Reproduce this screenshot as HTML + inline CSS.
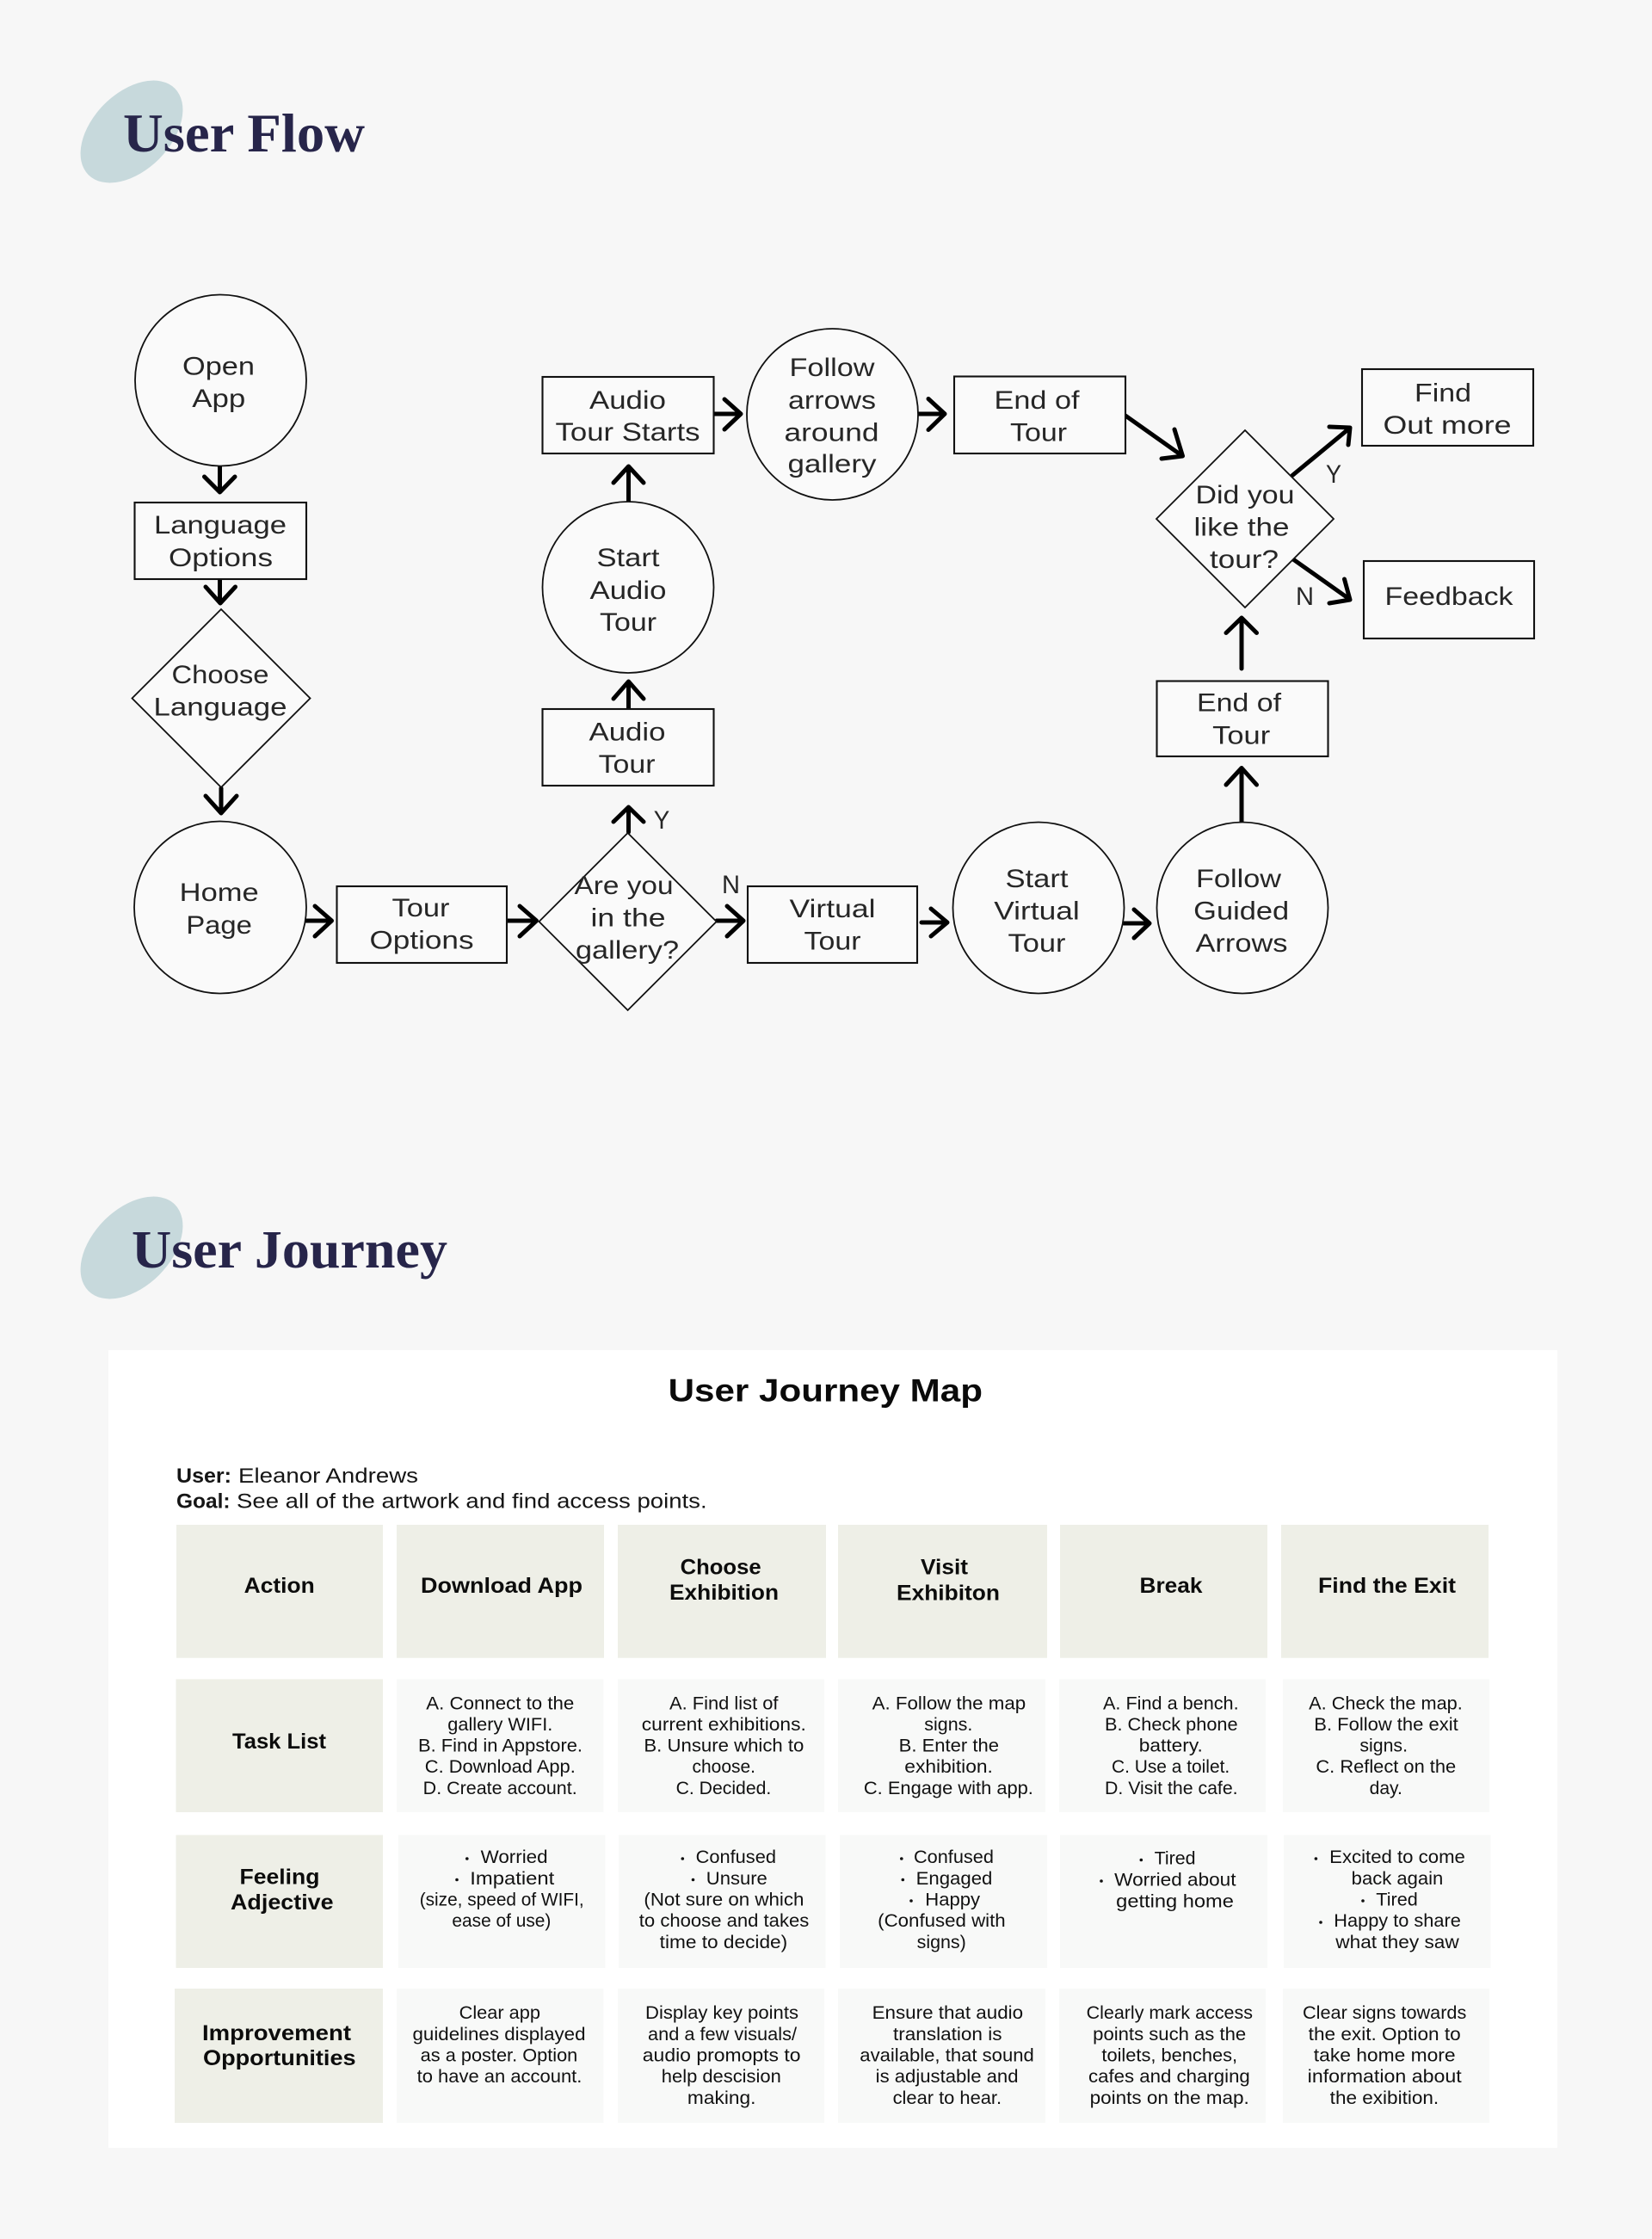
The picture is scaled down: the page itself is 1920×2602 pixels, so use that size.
<!DOCTYPE html>
<html lang="en"><head><meta charset="utf-8"><title>User Flow and User Journey</title>
<style>
html,body{margin:0;padding:0;background:#f7f7f7}
svg{display:block}
text{font-family:"Liberation Sans",sans-serif;fill:#151515}
.t{font-size:30px;text-anchor:middle;fill:#262626}
.s{fill:#fafafa;stroke:#111;stroke-width:1.8}
.b{fill:#fafafa;stroke:#111;stroke-width:2.1}
.a{fill:none;stroke:#000;stroke-width:5;stroke-linecap:round;stroke-linejoin:round}
.h{font-family:"Liberation Serif",serif;font-weight:700;fill:#27254a}
.c{font-size:20.8px;fill:#111}
.m{font-size:25px;font-weight:700;fill:#0c0c0c}
.d{fill:#111}
.hc{fill:#eeefe7}.lc{fill:#eeefe7}.pc{fill:#f8f9f8}
</style></head>
<body>
<svg width="1920" height="2602" viewBox="0 0 1920 2602" xmlns="http://www.w3.org/2000/svg">
<rect width="1920" height="2602" fill="#f7f7f7"/>

<ellipse cx="153" cy="153" rx="71" ry="45" transform="rotate(-45 153 153)" fill="#c7d9dc"/>
<text class="h" x="143" y="176" font-size="64" textLength="281" lengthAdjust="spacingAndGlyphs">User Flow</text>
<ellipse cx="153" cy="1450" rx="71" ry="45" transform="rotate(-45 153 1450)" fill="#c7d9dc"/>
<text class="h" x="153" y="1473" font-size="62" textLength="367" lengthAdjust="spacingAndGlyphs">User Journey</text>

<!-- connectors -->
<g class="a">
<path d="M255.500 542V571M237.500 554L255.500 572L273 554"/>
<path d="M255.500 674V700M239 682L256 701L273.500 682"/>
<path d="M257 916V944M239 925L257 945L275 925"/>
<path d="M355 1070H384M366 1053L385.500 1070L366 1088"/>
<path d="M589 1070H622M604 1053L623.500 1070L604 1088"/>
<path d="M833 1070H863M845 1053L864 1070L845 1088"/>
<path d="M730.500 967V939M713 955L730.500 938L748 955"/>
<path d="M730.500 824V793M713 812L730.500 792L748 812"/>
<path d="M730.500 582V543M713 561L730.500 542L748 561"/>
<path d="M830 481H860M842 464L861 481L842 499"/>
<path d="M1066 481H1097M1079 463.500L1098 481L1079 499.500"/>
<path d="M1308 483L1373 529M1365 499L1374.500 530L1350 533"/>
<path d="M1502 552.500L1568 498M1545 496L1569 497L1567 517"/>
<path d="M1503 650L1568 696M1562.500 673L1569 697L1545 701"/>
<path d="M1443 777V719M1425 735.500L1443 718L1460.500 735.500"/>
<path d="M1443 955V893M1425 912L1443 892.500L1460.500 912"/>
<path d="M1071 1072H1100M1082 1056L1101 1072L1082 1088"/>
<path d="M1306 1073H1335M1318 1057L1336 1073L1318 1090"/>
</g>

<!-- nodes -->
<circle class="s" cx="256.500" cy="442" r="99.500"/>
<rect class="b" x="156.500" y="584" width="199.500" height="89"/>
<polygon class="s" points="257,708 360.500,811.500 257,915 153.500,811.500"/>
<circle class="s" cx="256" cy="1054.500" r="100"/>
<rect class="b" x="391.500" y="1030" width="197.500" height="89"/>
<polygon class="s" points="729.600,968 832.700,1071 729.600,1174 626.500,1071"/>
<rect class="b" x="869" y="1030" width="197" height="89"/>
<circle class="s" cx="1207" cy="1055" r="99.500"/>
<circle class="s" cx="1444" cy="1055" r="99.500"/>
<rect class="b" x="1344.500" y="791.500" width="199" height="87.500"/>
<polygon class="s" points="1447,500 1550,603 1447,706 1344,603"/>
<rect class="b" x="1583" y="429" width="199" height="89"/>
<rect class="b" x="1585" y="652" width="198" height="90"/>
<rect class="b" x="1109" y="437.500" width="199" height="89.500"/>
<circle class="s" cx="967.500" cy="481.500" r="99.500"/>
<rect class="b" x="630.500" y="438" width="199" height="89"/>
<circle class="s" cx="730" cy="682.500" r="99.500"/>
<rect class="b" x="630.500" y="824" width="199" height="89"/>

<!-- flow text -->
<g>
<text class="t" x="254" y="435.500" textLength="84" lengthAdjust="spacingAndGlyphs">Open</text>
<text class="t" x="254.300" y="473" textLength="62" lengthAdjust="spacingAndGlyphs">App</text>
<text class="t" x="256" y="620" textLength="154" lengthAdjust="spacingAndGlyphs">Language</text>
<text class="t" x="256.500" y="658" textLength="121" lengthAdjust="spacingAndGlyphs">Options</text>
<text class="t" x="256" y="794" textLength="113" lengthAdjust="spacingAndGlyphs">Choose</text>
<text class="t" x="256" y="831.700" textLength="155" lengthAdjust="spacingAndGlyphs">Language</text>
<text class="t" x="254.700" y="1047" textLength="92" lengthAdjust="spacingAndGlyphs">Home</text>
<text class="t" x="254.600" y="1085" textLength="76.500" lengthAdjust="spacingAndGlyphs">Page</text>
<text class="t" x="489" y="1065" textLength="67" lengthAdjust="spacingAndGlyphs">Tour</text>
<text class="t" x="490" y="1102.700" textLength="121" lengthAdjust="spacingAndGlyphs">Options</text>
<text class="t" x="725" y="1039" textLength="115" lengthAdjust="spacingAndGlyphs">Are you</text>
<text class="t" x="730" y="1076.700" textLength="87" lengthAdjust="spacingAndGlyphs">in the</text>
<text class="t" x="729" y="1114" textLength="120" lengthAdjust="spacingAndGlyphs">gallery?</text>
<text class="t" x="769" y="963" textLength="18.500" lengthAdjust="spacingAndGlyphs">Y</text>
<text class="t" x="849.500" y="1038" textLength="21" lengthAdjust="spacingAndGlyphs">N</text>
<text class="t" x="729" y="860.700" textLength="89" lengthAdjust="spacingAndGlyphs">Audio</text>
<text class="t" x="728.600" y="898" textLength="66" lengthAdjust="spacingAndGlyphs">Tour</text>
<text class="t" x="730" y="658" textLength="73" lengthAdjust="spacingAndGlyphs">Start</text>
<text class="t" x="730" y="696" textLength="89" lengthAdjust="spacingAndGlyphs">Audio</text>
<text class="t" x="730" y="733" textLength="66" lengthAdjust="spacingAndGlyphs">Tour</text>
<text class="t" x="729.500" y="475" textLength="89" lengthAdjust="spacingAndGlyphs">Audio</text>
<text class="t" x="729.500" y="512" textLength="168" lengthAdjust="spacingAndGlyphs">Tour Starts</text>
<text class="t" x="967" y="437" textLength="99" lengthAdjust="spacingAndGlyphs">Follow</text>
<text class="t" x="967" y="475" textLength="102" lengthAdjust="spacingAndGlyphs">arrows</text>
<text class="t" x="966.500" y="512.700" textLength="110" lengthAdjust="spacingAndGlyphs">around</text>
<text class="t" x="967" y="549" textLength="103" lengthAdjust="spacingAndGlyphs">gallery</text>
<text class="t" x="1205" y="475" textLength="99" lengthAdjust="spacingAndGlyphs">End of</text>
<text class="t" x="1207" y="512.700" textLength="66" lengthAdjust="spacingAndGlyphs">Tour</text>
<text class="t" x="1677" y="466.700" textLength="66" lengthAdjust="spacingAndGlyphs">Find</text>
<text class="t" x="1682" y="504" textLength="149" lengthAdjust="spacingAndGlyphs">Out more</text>
<text class="t" x="1447" y="585" textLength="115" lengthAdjust="spacingAndGlyphs">Did you</text>
<text class="t" x="1443" y="622.500" textLength="111" lengthAdjust="spacingAndGlyphs">like the</text>
<text class="t" x="1446" y="660" textLength="80" lengthAdjust="spacingAndGlyphs">tour?</text>
<text class="t" x="1550" y="561" textLength="18" lengthAdjust="spacingAndGlyphs">Y</text>
<text class="t" x="1516.500" y="703" textLength="21" lengthAdjust="spacingAndGlyphs">N</text>
<text class="t" x="1684" y="703" textLength="149" lengthAdjust="spacingAndGlyphs">Feedback</text>
<text class="t" x="1440" y="826.500" textLength="98" lengthAdjust="spacingAndGlyphs">End of</text>
<text class="t" x="1442.700" y="864.700" textLength="67" lengthAdjust="spacingAndGlyphs">Tour</text>
<text class="t" x="1205" y="1031" textLength="73" lengthAdjust="spacingAndGlyphs">Start</text>
<text class="t" x="1205" y="1068.700" textLength="99.500" lengthAdjust="spacingAndGlyphs">Virtual</text>
<text class="t" x="1205" y="1106" textLength="67" lengthAdjust="spacingAndGlyphs">Tour</text>
<text class="t" x="1439.500" y="1031" textLength="99" lengthAdjust="spacingAndGlyphs">Follow</text>
<text class="t" x="1442.700" y="1068.700" textLength="111" lengthAdjust="spacingAndGlyphs">Guided</text>
<text class="t" x="1443" y="1106" textLength="107" lengthAdjust="spacingAndGlyphs">Arrows</text>
<text class="t" x="967.500" y="1066" textLength="100" lengthAdjust="spacingAndGlyphs">Virtual</text>
<text class="t" x="967.500" y="1103.700" textLength="66" lengthAdjust="spacingAndGlyphs">Tour</text>
</g>

<!-- journey card -->
<rect x="126" y="1569" width="1684" height="927" fill="#fff"/>
<text x="776.600" y="1628.500" font-size="37" font-weight="700" textLength="365.400" lengthAdjust="spacingAndGlyphs" style="fill:#0a0a0a">User Journey Map</text>
<text x="205" y="1723" font-size="24.500" font-weight="700" textLength="64" lengthAdjust="spacingAndGlyphs">User:</text>
<text x="277" y="1723" font-size="24.500" textLength="209" lengthAdjust="spacingAndGlyphs">Eleanor Andrews</text>
<text x="205" y="1752.600" font-size="24.500" font-weight="700" textLength="62.600" lengthAdjust="spacingAndGlyphs">Goal:</text>
<text x="275" y="1752.600" font-size="24.500" textLength="546.600" lengthAdjust="spacingAndGlyphs">See all of the artwork and find access points.</text>

<!-- header row -->
<g class="hc">
<rect x="205" y="1772" width="240" height="154.700"/><rect x="461" y="1772" width="241" height="154.700"/><rect x="718" y="1772" width="242" height="154.700"/><rect x="974" y="1772" width="243" height="154.700"/><rect x="1232" y="1772" width="241" height="154.700"/><rect x="1489" y="1772" width="241" height="154.700"/>
</g>
<!-- side labels -->
<g class="lc">
<rect x="204.500" y="1951.400" width="240.500" height="154.600"/><rect x="204.500" y="2132.500" width="240.500" height="154.500"/><rect x="203" y="2311" width="242" height="156"/>
</g>
<!-- content cells -->
<g class="pc">
<rect x="461" y="1951.400" width="240.400" height="154.600"/><rect x="718" y="1951.400" width="240" height="154.600"/><rect x="974" y="1951.400" width="241" height="154.600"/><rect x="1231" y="1951.400" width="240" height="154.600"/><rect x="1491" y="1951.400" width="240" height="154.600"/>
<rect x="463" y="2132.500" width="240.500" height="154.500"/><rect x="719" y="2132.500" width="240.600" height="154.500"/><rect x="976" y="2132.500" width="241" height="154.500"/><rect x="1232" y="2132.500" width="241" height="154.500"/><rect x="1492" y="2132.500" width="240.500" height="154.500"/>
<rect x="461" y="2311" width="240.400" height="156"/><rect x="718" y="2311" width="240" height="156"/><rect x="974" y="2311" width="241" height="156"/><rect x="1231" y="2311" width="240" height="156"/><rect x="1491" y="2311" width="240" height="156"/>
</g>

<!-- header labels -->
<text class="m" x="283.700" y="1851" textLength="82" lengthAdjust="spacingAndGlyphs">Action</text>
<text class="m" x="489" y="1851" textLength="188" lengthAdjust="spacingAndGlyphs">Download App</text>
<text class="m" x="790.600" y="1829.700" textLength="94" lengthAdjust="spacingAndGlyphs">Choose</text>
<text class="m" x="778" y="1859" textLength="127" lengthAdjust="spacingAndGlyphs">Exhibition</text>
<text class="m" x="1070" y="1829.700" textLength="55" lengthAdjust="spacingAndGlyphs">Visit</text>
<text class="m" x="1042" y="1859.300" textLength="120" lengthAdjust="spacingAndGlyphs">Exhibiton</text>
<text class="m" x="1324.500" y="1851" textLength="73" lengthAdjust="spacingAndGlyphs">Break</text>
<text class="m" x="1532" y="1851" textLength="160" lengthAdjust="spacingAndGlyphs">Find the Exit</text>
<text class="m" x="270" y="2031.800" textLength="109" lengthAdjust="spacingAndGlyphs">Task List</text>
<text class="m" x="278.500" y="2189.600" textLength="93" lengthAdjust="spacingAndGlyphs">Feeling</text>
<text class="m" x="268" y="2219" textLength="119.600" lengthAdjust="spacingAndGlyphs">Adjective</text>
<text class="m" x="235" y="2371" textLength="173" lengthAdjust="spacingAndGlyphs">Improvement</text>
<text class="m" x="236" y="2400" textLength="177.600" lengthAdjust="spacingAndGlyphs">Opportunities</text>

<!-- task list -->
<g class="c">
<text class="c" x="495.300" y="1986.400" textLength="172" lengthAdjust="spacingAndGlyphs">A. Connect to the</text>
<text class="c" x="520.300" y="2011" textLength="122" lengthAdjust="spacingAndGlyphs">gallery WIFI.</text>
<text class="c" x="486" y="2035.700" textLength="191" lengthAdjust="spacingAndGlyphs">B. Find in Appstore.</text>
<text class="c" x="493.800" y="2060" textLength="175" lengthAdjust="spacingAndGlyphs">C. Download App.</text>
<text class="c" x="491.700" y="2085" textLength="179" lengthAdjust="spacingAndGlyphs">D. Create account.</text>

<text class="c" x="778" y="1986.400" textLength="126.500" lengthAdjust="spacingAndGlyphs">A. Find list of</text>
<text class="c" x="745.800" y="2011" textLength="191" lengthAdjust="spacingAndGlyphs">current exhibitions.</text>
<text class="c" x="748.400" y="2035.700" textLength="186" lengthAdjust="spacingAndGlyphs">B. Unsure which to</text>
<text class="c" x="804.500" y="2060" textLength="73.500" lengthAdjust="spacingAndGlyphs">choose.</text>
<text class="c" x="785.600" y="2085" textLength="110.700" lengthAdjust="spacingAndGlyphs">C. Decided.</text>

<text class="c" x="1013.600" y="1986.400" textLength="178.600" lengthAdjust="spacingAndGlyphs">A. Follow the map</text>
<text class="c" x="1074.300" y="2011" textLength="56" lengthAdjust="spacingAndGlyphs">signs.</text>
<text class="c" x="1044.700" y="2035.700" textLength="116.300" lengthAdjust="spacingAndGlyphs">B. Enter the</text>
<text class="c" x="1051.300" y="2060" textLength="102.600" lengthAdjust="spacingAndGlyphs">exhibition.</text>
<text class="c" x="1003.900" y="2085" textLength="197" lengthAdjust="spacingAndGlyphs">C. Engage with app.</text>

<text class="c" x="1282" y="1986.400" textLength="157.600" lengthAdjust="spacingAndGlyphs">A. Find a bench.</text>
<text class="c" x="1284" y="2011" textLength="154.600" lengthAdjust="spacingAndGlyphs">B. Check phone</text>
<text class="c" x="1323.800" y="2035.700" textLength="74" lengthAdjust="spacingAndGlyphs">battery.</text>
<text class="c" x="1292" y="2060" textLength="137.200" lengthAdjust="spacingAndGlyphs">C. Use a toilet.</text>
<text class="c" x="1284" y="2085" textLength="154.600" lengthAdjust="spacingAndGlyphs">D. Visit the cafe.</text>

<text class="c" x="1521.200" y="1986.400" textLength="178.600" lengthAdjust="spacingAndGlyphs">A. Check the map.</text>
<text class="c" x="1527.300" y="2011" textLength="167.400" lengthAdjust="spacingAndGlyphs">B. Follow the exit</text>
<text class="c" x="1580.400" y="2035.700" textLength="55.600" lengthAdjust="spacingAndGlyphs">signs.</text>
<text class="c" x="1529.400" y="2060" textLength="162.800" lengthAdjust="spacingAndGlyphs">C. Reflect on the</text>
<text class="c" x="1591.600" y="2085" textLength="38.300" lengthAdjust="spacingAndGlyphs">day.</text>

<!-- feeling -->
<text class="c" x="558.600" y="2165" textLength="78" lengthAdjust="spacingAndGlyphs">Worried</text>
<text class="c" x="546.300" y="2190" textLength="98" lengthAdjust="spacingAndGlyphs">Impatient</text>
<text class="c" x="487.700" y="2214.600" textLength="191" lengthAdjust="spacingAndGlyphs">(size, speed of WIFI,</text>
<text class="c" x="525.400" y="2239" textLength="115" lengthAdjust="spacingAndGlyphs">ease of use)</text>

<text class="c" x="808.600" y="2165" textLength="93.400" lengthAdjust="spacingAndGlyphs">Confused</text>
<text class="c" x="820.800" y="2190" textLength="71" lengthAdjust="spacingAndGlyphs">Unsure</text>
<text class="c" x="748.400" y="2214.600" textLength="186" lengthAdjust="spacingAndGlyphs">(Not sure on which</text>
<text class="c" x="742.800" y="2239" textLength="197.500" lengthAdjust="spacingAndGlyphs">to choose and takes</text>
<text class="c" x="766.700" y="2264" textLength="148.500" lengthAdjust="spacingAndGlyphs">time to decide)</text>

<text class="c" x="1062" y="2165" textLength="92.900" lengthAdjust="spacingAndGlyphs">Confused</text>
<text class="c" x="1064.600" y="2190" textLength="88.800" lengthAdjust="spacingAndGlyphs">Engaged</text>
<text class="c" x="1075.300" y="2214.600" textLength="63.800" lengthAdjust="spacingAndGlyphs">Happy</text>
<text class="c" x="1020.200" y="2239" textLength="148.500" lengthAdjust="spacingAndGlyphs">(Confused with</text>
<text class="c" x="1065.600" y="2264" textLength="57.200" lengthAdjust="spacingAndGlyphs">signs)</text>

<text class="c" x="1341.600" y="2166.400" textLength="48" lengthAdjust="spacingAndGlyphs">Tired</text>
<text class="c" x="1295.200" y="2191.400" textLength="141.300" lengthAdjust="spacingAndGlyphs">Worried about</text>
<text class="c" x="1297.200" y="2216.400" textLength="136.700" lengthAdjust="spacingAndGlyphs">getting home</text>

<text class="c" x="1545.200" y="2165" textLength="157.700" lengthAdjust="spacingAndGlyphs">Excited to come</text>
<text class="c" x="1570.700" y="2190" textLength="106.600" lengthAdjust="spacingAndGlyphs">back again</text>
<text class="c" x="1599.300" y="2214.600" textLength="48.500" lengthAdjust="spacingAndGlyphs">Tired</text>
<text class="c" x="1550.300" y="2239" textLength="147.500" lengthAdjust="spacingAndGlyphs">Happy to share</text>
<text class="c" x="1552.300" y="2264" textLength="143.400" lengthAdjust="spacingAndGlyphs">what they saw</text>

<!-- improvements -->
<text class="c" x="533.600" y="2346" textLength="94.400" lengthAdjust="spacingAndGlyphs">Clear app</text>
<text class="c" x="479.500" y="2371" textLength="201" lengthAdjust="spacingAndGlyphs">guidelines displayed</text>
<text class="c" x="488.700" y="2395.700" textLength="182.600" lengthAdjust="spacingAndGlyphs">as a poster. Option</text>
<text class="c" x="484.600" y="2420" textLength="191.800" lengthAdjust="spacingAndGlyphs">to have an account.</text>

<text class="c" x="750" y="2346" textLength="178" lengthAdjust="spacingAndGlyphs">Display key points</text>
<text class="c" x="753" y="2371" textLength="173" lengthAdjust="spacingAndGlyphs">and a few visuals/</text>
<text class="c" x="746.800" y="2395.700" textLength="183.700" lengthAdjust="spacingAndGlyphs">audio promopts to</text>
<text class="c" x="768.800" y="2420" textLength="139" lengthAdjust="spacingAndGlyphs">help descision</text>
<text class="c" x="798.900" y="2445" textLength="79.600" lengthAdjust="spacingAndGlyphs">making.</text>

<text class="c" x="1013.600" y="2346" textLength="175.500" lengthAdjust="spacingAndGlyphs">Ensure that audio</text>
<text class="c" x="1038" y="2371" textLength="126.500" lengthAdjust="spacingAndGlyphs">translation is</text>
<text class="c" x="999.300" y="2395.700" textLength="202.500" lengthAdjust="spacingAndGlyphs">available, that sound</text>
<text class="c" x="1017.700" y="2420" textLength="165.800" lengthAdjust="spacingAndGlyphs">is adjustable and</text>
<text class="c" x="1037.600" y="2445" textLength="126.500" lengthAdjust="spacingAndGlyphs">clear to hear.</text>

<text class="c" x="1262.600" y="2346" textLength="193.400" lengthAdjust="spacingAndGlyphs">Clearly mark access</text>
<text class="c" x="1270.200" y="2371" textLength="178" lengthAdjust="spacingAndGlyphs">points such as the</text>
<text class="c" x="1280.400" y="2395.700" textLength="157.700" lengthAdjust="spacingAndGlyphs">toilets, benches,</text>
<text class="c" x="1265" y="2420" textLength="187.800" lengthAdjust="spacingAndGlyphs">cafes and charging</text>
<text class="c" x="1266.600" y="2445" textLength="185.200" lengthAdjust="spacingAndGlyphs">points on the map.</text>

<text class="c" x="1514" y="2346" textLength="190.300" lengthAdjust="spacingAndGlyphs">Clear signs towards</text>
<text class="c" x="1520.700" y="2371" textLength="177" lengthAdjust="spacingAndGlyphs">the exit. Option to</text>
<text class="c" x="1526.800" y="2395.700" textLength="164.800" lengthAdjust="spacingAndGlyphs">take home more</text>
<text class="c" x="1519.700" y="2420" textLength="179" lengthAdjust="spacingAndGlyphs">information about</text>
<text class="c" x="1545.700" y="2445" textLength="126.500" lengthAdjust="spacingAndGlyphs">the exibition.</text>
</g>

<!-- bullets -->
<g class="d">
<circle cx="542.800" cy="2160" r="1.800"/><circle cx="531" cy="2184.500" r="1.800"/>
<circle cx="793.300" cy="2160" r="1.800"/><circle cx="805.500" cy="2184.500" r="1.800"/>
<circle cx="1047.800" cy="2160" r="1.800"/><circle cx="1049.300" cy="2184.500" r="1.800"/><circle cx="1059" cy="2209" r="1.800"/>
<circle cx="1326.300" cy="2161.500" r="1.800"/><circle cx="1280" cy="2186" r="1.800"/>
<circle cx="1529.400" cy="2160" r="1.800"/><circle cx="1584" cy="2209" r="1.800"/><circle cx="1535" cy="2234" r="1.800"/>
</g>
</svg>
</body></html>
